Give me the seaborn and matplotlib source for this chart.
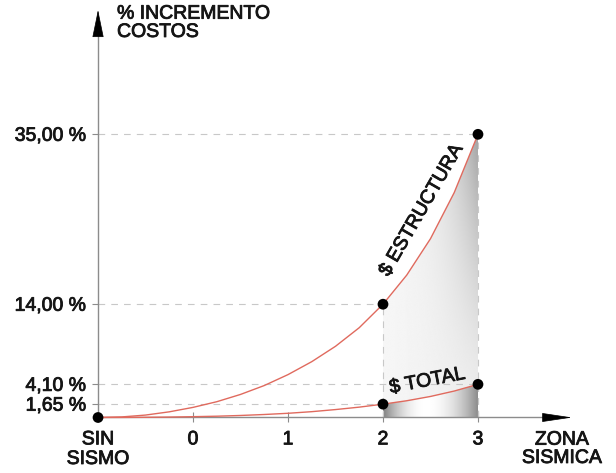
import numpy as np
import pandas as pd
import matplotlib
matplotlib.use("Agg")
import matplotlib.pyplot as plt
import matplotlib.patheffects as pe
import seaborn as sns
from matplotlib.patches import Polygon

# ---------------- data ----------------
zone_x = [-1, -0.75, -0.5, -0.25, 0, 0.25, 0.5, 0.75, 1, 1.25, 1.5, 1.75, 2, 2.25, 2.5, 2.75, 3]
estructura = [0, 0.07, 0.3, 0.7, 1.25, 1.95, 2.85, 3.95, 5.3, 6.9, 8.8, 11.1, 14, 17.6, 22.1, 27.8, 35]
total = [0, 0.008, 0.025, 0.055, 0.1, 0.16, 0.25, 0.37, 0.52, 0.72, 0.98, 1.28, 1.65, 2.07, 2.6, 3.27, 4.1]

point_x = [-1, 2, 3, 2, 3]
point_y = [0, 14, 35, 1.65, 4.1]

ytick_vals = [1.65, 4.1, 14, 35]
ytick_labels = ["1,65 %", "4,10 %", "14,00 %", "35,00 %"]
xtick_vals = [-1, 0, 1, 2, 3]
xtick_labels = ["SIN\nSISMO", "0", "1", "2", "3"]

ylabel_text = "% INCREMENTO\nCOSTOS"
xlabel_text = "ZONA\nSISMICA"
label_estructura = "$ ESTRUCTURA"
label_total = "$ TOTAL"

# ---------------- style ----------------
sns.set_style("white")
plt.rcParams["font.family"] = ["Liberation Sans", "DejaVu Sans"]
TXT = "#151515"
AXC = "#8c8c8c"
RED = "#e06a5e"
DASH = "#c8c8c8"
BOLDER = [pe.withStroke(linewidth=0.6, foreground=TXT)]

fig = plt.figure(figsize=(6.16, 4.73), dpi=100)
ax = fig.add_axes([0, 0, 1, 1])
ax.set_xlim(-2.032, 4.453)
ax.set_ylim(-6.86, 51.6)
ax.patch.set_alpha(0)

# ---------------- gradient fills between zones 2 and 3 ----------------
zx = np.array(zone_x)
sel = (zx >= 2) & (zx <= 3)
up_poly = [(x, y) for x, y in zip(zx[sel], np.array(estructura)[sel])] + [(3, 0), (2, 0)]
lo_poly = [(x, y) for x, y in zip(zx[sel], np.array(total)[sel])] + [(3, 0), (2, 0)]

uu, vv = np.meshgrid(np.linspace(0, 1, 200), np.linspace(0, 35, 400))
g_up = 0.965 - 0.03 * uu - 0.30 * uu**3 * (vv / 35) ** 1.5
p_up = Polygon(up_poly, closed=True, facecolor="none", edgecolor="none")
ax.add_patch(p_up)
im1 = ax.imshow(g_up, cmap="gray", vmin=0, vmax=1, origin="lower",
                extent=[2, 3, 0, 35], aspect="auto", zorder=1, interpolation="bilinear")
im1.set_clip_path(p_up)

u2, v2 = np.meshgrid(np.linspace(0, 1, 200), np.linspace(0, 4.1, 50))
g_lo = np.where(u2 < 0.45, 1 - 0.5 * ((0.45 - u2) / 0.45) ** 2,
                1 - 0.45 * ((u2 - 0.45) / 0.55) ** 2)
p_lo = Polygon(lo_poly, closed=True, facecolor="none", edgecolor="none")
ax.add_patch(p_lo)
im2 = ax.imshow(g_lo, cmap="gray", vmin=0, vmax=1, origin="lower",
                extent=[2, 3, 0, 4.1], aspect="auto", zorder=1.2, interpolation="bilinear")
im2.set_clip_path(p_lo)

# ---------------- dashed guides ----------------
for px, py in zip(point_x[1:], point_y[1:]):
    ax.plot([-1, px], [py, py], color=DASH, lw=0.8, ls=(0, (6, 5.5)), zorder=1.5)
    ax.plot([px, px], [0, py], color=DASH, lw=0.8, ls=(0, (6, 5.5)), zorder=1.5)

# ---------------- curves ----------------
n = len(zone_x)
df = pd.DataFrame({
    "zona": zone_x * 2,
    "costo": estructura + total,
    "serie": ["Estructura"] * n + ["Total"] * n,
})
sns.lineplot(data=df, x="zona", y="costo", units="serie", estimator=None,
             color=RED, lw=1.0, ax=ax, legend=False, zorder=3)

# ---------------- points ----------------
sns.scatterplot(x=point_x, y=point_y, color="black", s=60, edgecolor="none",
                ax=ax, zorder=5, legend=False)

# ---------------- axes ----------------
for s in ["top", "right"]:
    ax.spines[s].set_visible(False)
ax.spines["left"].set_position(("data", -1))
ax.spines["bottom"].set_position(("data", 0))
ax.spines["left"].set_bounds(0, 47.5)
ax.spines["bottom"].set_bounds(-1, 3.72)
for s in ["left", "bottom"]:
    ax.spines[s].set_color(AXC)
    ax.spines[s].set_linewidth(1.0)
    ax.spines[s].set_zorder(2.5)

ax.set_xticks(xtick_vals, xtick_labels)
ax.set_yticks(ytick_vals, ytick_labels)
ax.tick_params(axis="y", direction="out", length=4.5, width=0.8, color=AXC,
               pad=4, labelsize=14, labelcolor=TXT, left=True)
ax.tick_params(axis="x", direction="inout", length=7, width=0.8, color=AXC,
               pad=6.5, labelsize=14, labelcolor=TXT, bottom=True)
ax.set_xlabel("")
ax.set_ylabel("")
for lab in ax.get_xticklabels() + ax.get_yticklabels():
    lab.set_path_effects(BOLDER)

# arrowheads
ax.annotate("", xy=(3.99, 0), xytext=(3.70, 0),
            arrowprops=dict(arrowstyle="-|>,head_length=1.95,head_width=0.29",
                            color="black", lw=0.5, mutation_scale=10,
                            shrinkA=0, shrinkB=0), zorder=4)
ax.annotate("", xy=(-1, 50.37), xytext=(-1, 47.2),
            arrowprops=dict(arrowstyle="-|>,head_length=1.8,head_width=0.37",
                            color="black", lw=0.5, mutation_scale=10,
                            shrinkA=0, shrinkB=0), zorder=4)

# axis titles
ax.text(-0.8, 50.9, ylabel_text, ha="left", va="top", fontsize=14, color=TXT,
        linespacing=1.1, path_effects=BOLDER)
ax.text(3.884, -1.75, xlabel_text, ha="center", va="top", fontsize=14, color=TXT,
        multialignment="center", linespacing=1.1, path_effects=BOLDER)

# curve labels
ax.text(2.41, 25.6, label_estructura, rotation=60, rotation_mode="anchor",
        ha="center", va="center", fontsize=14, color=TXT, zorder=6, path_effects=BOLDER)
ax.text(2.468, 4.45, label_total, rotation=11, rotation_mode="anchor",
        ha="center", va="center", fontsize=14, color=TXT, zorder=6, path_effects=BOLDER)

fig.savefig("out.png", dpi=100)
